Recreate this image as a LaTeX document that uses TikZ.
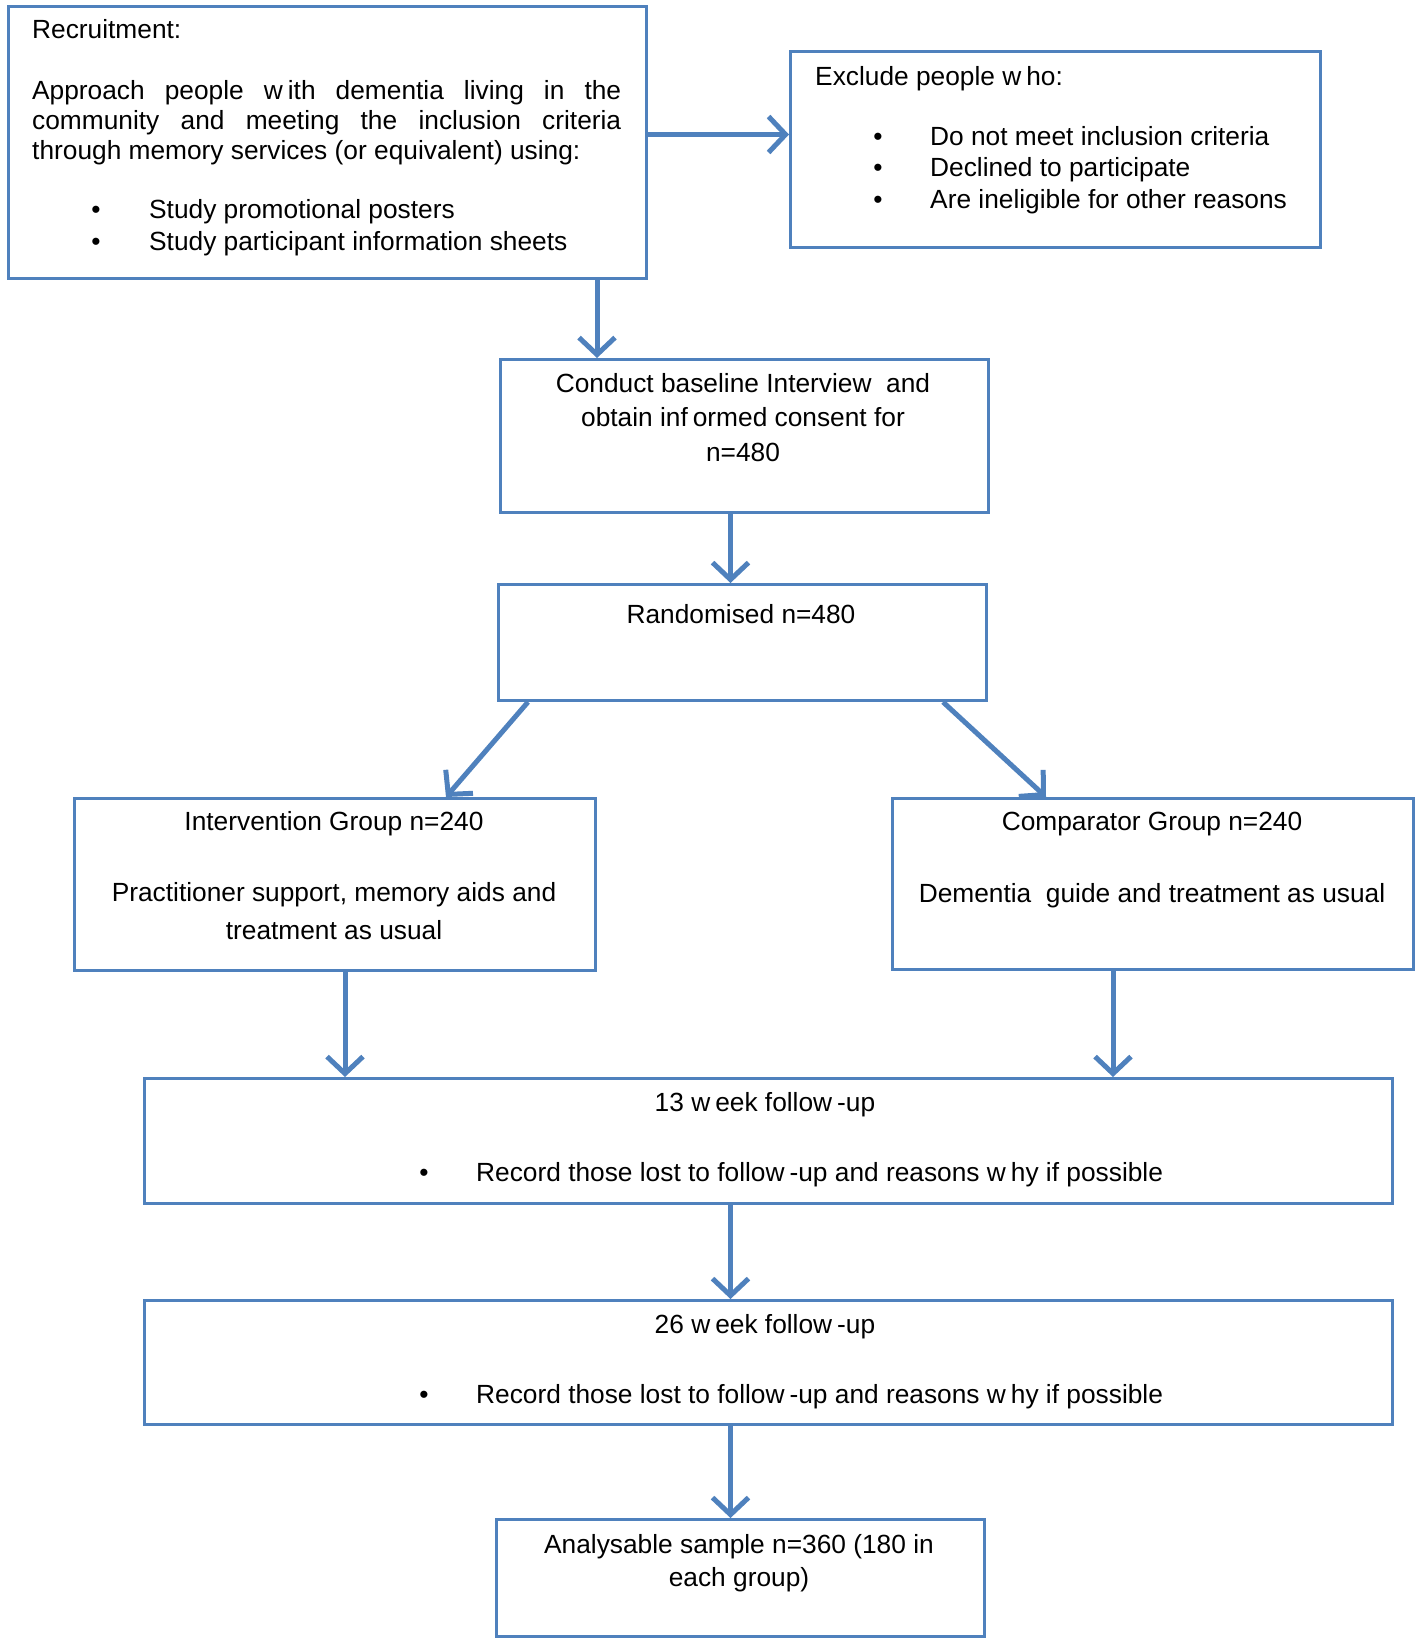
\documentclass[tikz,border=0pt]{standalone}
\usepackage{fontspec}
\setmainfont{Liberation Sans}
\usetikzlibrary{arrows.meta,positioning}
\definecolor{boxblue}{RGB}{79,129,189}
\newcommand{\gp}{\kern5pt}

\tikzset{
  box/.style={draw=boxblue, line width=3pt, anchor=north west, inner sep=0pt},
  txt/.style={inner sep=0pt, font=\fontsize{26.3}{30}\selectfont},
  arr/.style={draw=boxblue, line width=5pt, -{Straight Barb[length=17pt,width=36pt]}},
}

\begin{document}
\begin{tikzpicture}[x=1pt,y=-1pt]
\useasboundingbox (0,0) rectangle (1418,1641);

% boxes
\node[box, minimum width=638pt, minimum height=272pt] at (7,5) (rec) {};
\node[box, minimum width=530pt, minimum height=196pt] at (789,50) (excl) {};
\node[box, minimum width=488pt, minimum height=153pt] at (499,358) (base) {};
\node[box, minimum width=488pt, minimum height=116pt] at (497,583) (rand) {};
\node[box, minimum width=521pt, minimum height=172pt] at (73,797) (interv) {};
\node[box, minimum width=521pt, minimum height=171pt] at (891,797) (comp) {};
\node[box, minimum width=1248pt, minimum height=125pt] at (143,1077) (wkA) {};
\node[box, minimum width=1248pt, minimum height=124pt] at (143,1299) (wkB) {};
\node[box, minimum width=488pt, minimum height=117pt] at (495,1518) (ana) {};

% texts
\node[txt, anchor=base west] at (32,38) (rectitle) {Recruitment:};
\node[txt, anchor=north west, text width=589pt, align=justify] at (32,80) (recpar)
  {Approach people w\gp ith dementia living in the\linebreak
   community and meeting the inclusion criteria\linebreak
   through memory services (or equivalent) using:};
\foreach \y/\t [count=\i] in {218/Study promotional posters, 250/Study participant information sheets} {
  \node[txt, anchor=base] at (96,\y) (recb\i) {\textbullet};
  \node[txt, anchor=base west] at (149,\y) (reci\i) {\t};
}

\node[txt, anchor=base west] at (815,85) (excltitle) {Exclude people w\gp ho:};
\foreach \y/\t [count=\i] in {145/Do not meet inclusion criteria, 176/Declined to participate, 208/Are ineligible for other reasons} {
  \node[txt, anchor=base] at (878,\y) (exclb\i) {\textbullet};
  \node[txt, anchor=base west] at (930,\y) (excli\i) {\t};
}

\node[txt, anchor=north, align=center, font=\fontsize{26.3}{34.5}\selectfont] at (743,373) (basetxt)
  {Conduct baseline Interview\ \ and\\ obtain inf\gp ormed consent for\\ n=480};

\node[txt, anchor=base] at (741,623) (randtxt) {Randomised n=480};

\node[txt, anchor=base] at (334,830) (intitle) {Intervention Group n=240};
\node[txt, anchor=north, align=center, font=\fontsize{26.3}{38}\selectfont] at (334,882) (intxt)
  {Practitioner support, memory aids and\\ treatment as usual};

\node[txt, anchor=base] at (1152,830) (comptitle) {Comparator Group n=240};
\node[txt, anchor=base] at (1152,902) (comptxt) {Dementia\ \ guide and treatment as usual};

\foreach \n/\y in {wkA/1077, wkB/1299} {
  \node[txt, anchor=base] at (765,\y+34) (\n title) {\ifnum\y=1077 13\else 26\fi\ w\gp eek follow\gp -up};
  \node[txt, anchor=base] at (424,\y+104) (\n b) {\textbullet};
  \node[txt, anchor=base west] at (476,\y+104) (\n txt) {Record those lost to follow\gp -up and reasons w\gp hy if possible};
}

\node[txt, anchor=north, align=center, font=\fontsize{26.3}{33}\selectfont] at (739,1534) (anatxt)
  {Analysable sample n=360 (180 in\\ each group)};

% arrows
\draw[arr] ([yshift=8pt]rec.east) coordinate (a1) -- (a1 -| excl.west);
\draw[arr] ([xshift=-51pt]rec.south east) coordinate (a2) -- (a2 |- base.north);
\draw[arr] ([xshift=-14pt]base.south) coordinate (a3) -- (a3 |- rand.north);
\draw[arr] ([xshift=31pt]rand.south west) -- ([xshift=-151pt]interv.north east);
\draw[arr] ([xshift=-45pt]rand.south east) -- ([xshift=155pt]comp.north west);
\draw[arr] ([xshift=10pt]interv.south) coordinate (a4) -- (a4 |- wkA.north);
\draw[arr] ([xshift=-40pt]comp.south) coordinate (a5) -- (a5 |- wkA.north);
\draw[arr] ([xshift=-38pt]wkA.south) coordinate (a6) -- (a6 |- wkB.north);
\draw[arr] ([xshift=-38pt]wkB.south) coordinate (a7) -- (a7 |- ana.north);
\end{tikzpicture}
\end{document}
